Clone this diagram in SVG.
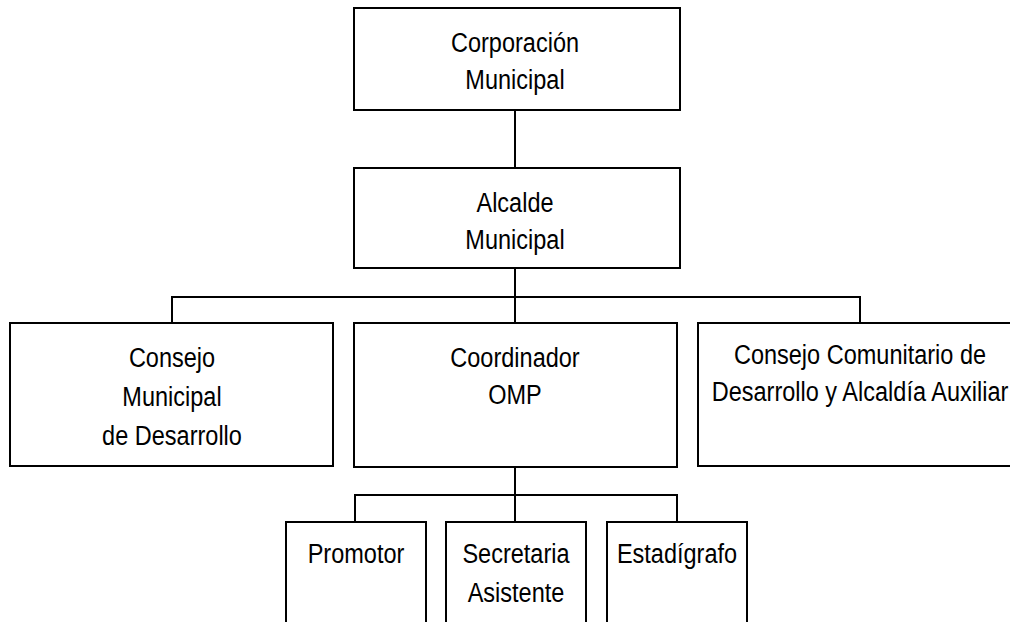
<svg xmlns="http://www.w3.org/2000/svg" width="1010" height="622" viewBox="0 0 1010 622">
<style>
.box{fill:#fff;stroke:#000;stroke-width:2}
.ln{fill:none;stroke:#000;stroke-width:2}
text{font-family:"Liberation Sans",Arial,sans-serif;font-size:28px;fill:#000;text-anchor:middle}
</style>
<rect width="1010" height="622" fill="#fff"/>
<g id="connectors">
<path class="ln" d="M515,110V168"/>
<path class="ln" d="M515,268V297"/>
<path class="ln" d="M172,323V297H860V323"/>
<path class="ln" d="M515,297V323"/>
<path class="ln" d="M515,467V495"/>
<path class="ln" d="M355,522V495H677V522"/>
<path class="ln" d="M515,495V522"/>
</g>
<g id="corporacion">
<rect class="box" x="354" y="8" width="326" height="102"/>
<text transform="translate(515,52) scale(0.84,1)">Corporación</text>
<text transform="translate(515,89) scale(0.84,1)">Municipal</text>
</g>
<g id="alcalde">
<rect class="box" x="354" y="168" width="326" height="100"/>
<text transform="translate(515,212) scale(0.84,1)">Alcalde</text>
<text transform="translate(515,249) scale(0.84,1)">Municipal</text>
</g>
<g id="consejo-municipal">
<rect class="box" x="10" y="323" width="323" height="143"/>
<text transform="translate(172,367) scale(0.84,1)">Consejo</text>
<text transform="translate(172,406) scale(0.84,1)">Municipal</text>
<text transform="translate(172,445) scale(0.84,1)">de Desarrollo</text>
</g>
<g id="coordinador">
<rect class="box" x="354" y="323" width="323" height="144"/>
<text transform="translate(515,367) scale(0.84,1)">Coordinador</text>
<text transform="translate(515,404) scale(0.84,1)">OMP</text>
</g>
<g id="consejo-comunitario">
<rect class="box" x="698" y="323" width="340" height="143"/>
<text transform="translate(860,364) scale(0.84,1)">Consejo Comunitario de</text>
<text transform="translate(860,401) scale(0.84,1)">Desarrollo y Alcaldía Auxiliar</text>
</g>
<g id="promotor">
<rect class="box" x="286" y="522" width="140" height="120"/>
<text transform="translate(356,563) scale(0.84,1)">Promotor</text>
</g>
<g id="secretaria">
<rect class="box" x="446" y="522" width="140" height="120"/>
<text transform="translate(516,563) scale(0.84,1)">Secretaria</text>
<text transform="translate(516,602) scale(0.84,1)">Asistente</text>
</g>
<g id="estadigrafo">
<rect class="box" x="607" y="522" width="140" height="120"/>
<text transform="translate(677,563) scale(0.84,1)">Estadígrafo</text>
</g>
</svg>
